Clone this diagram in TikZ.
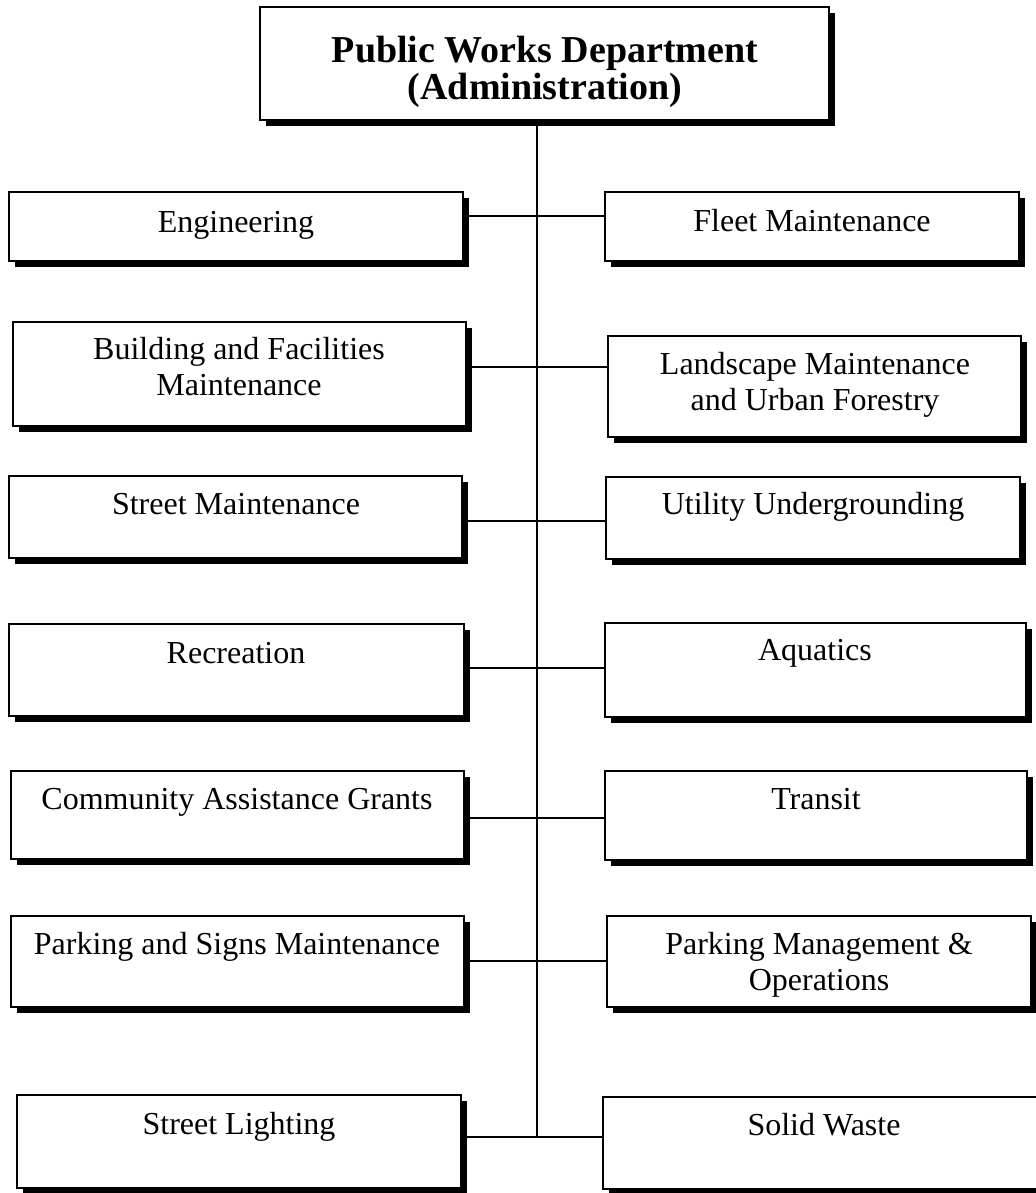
\documentclass[tikz,border=0pt]{standalone}
\usepackage{fontspec}
\setmainfont{Liberation Serif}
\usetikzlibrary{shadows,fit}

\tikzset{
  orgbox/.style={draw=black, line width=1pt, fill=white, inner sep=0pt,
    drop shadow={shadow xshift=3pt, shadow yshift=-3pt, fill=black, opacity=1}},
  % labels are placed by the baseline of their last line
  lbl/.style={font=\fontsize{16}{17.75}\selectfont, align=center,
    inner sep=0pt, anchor=base},
  headlbl/.style={font=\bfseries\fontsize{19}{18.5}\selectfont, align=center,
    inner sep=0pt, anchor=base},
  link/.style={line width=1pt}
}

\begin{document}
\begin{tikzpicture}[x=0.5pt, y=-0.5pt]
  \clip (0,0) rectangle (1036,1193);

  % junction points on the central spine
  \coordinate (j1) at (537,216);
  \coordinate (j2) at (537,367);
  \coordinate (j3) at (537,521);
  \coordinate (j4) at (537,668);
  \coordinate (j5) at (537,818);
  \coordinate (j6) at (537,961);
  \coordinate (j7) at (537,1137);

  % frames for the head and the divisions
  \node[orgbox, fit={(260,7) (829,120)}] (head) {};
  \node[orgbox, fit={(9,192) (463,261)}] (L1) {};
  \node[orgbox, fit={(605,192) (1019,261)}] (R1) {};
  \node[orgbox, fit={(13,322) (466,426)}] (L2) {};
  \node[orgbox, fit={(608,336) (1021,437)}] (R2) {};
  \node[orgbox, fit={(9,476) (462,558)}] (L3) {};
  \node[orgbox, fit={(606,477) (1020,559)}] (R3) {};
  \node[orgbox, fit={(9,624) (464,716)}] (L4) {};
  \node[orgbox, fit={(605,623) (1026,717)}] (R4) {};
  \node[orgbox, fit={(11,771) (464,859)}] (L5) {};
  \node[orgbox, fit={(605,771) (1027,860)}] (R5) {};
  \node[orgbox, fit={(11,916) (464,1007)}] (L6) {};
  \node[orgbox, fit={(607,916) (1031,1007)}] (R6) {};
  \node[orgbox, fit={(17,1095) (461,1188)}] (L7) {};
  \node[orgbox, fit={(603,1097) (1045,1189)}] (R7) {};

  % spine and cross links
  \draw[link] (head.south -| j1) -- (j7);
  \draw[link] (L1.east |- j1) -- (R1.west |- j1);
  \draw[link] (L2.east |- j2) -- (R2.west |- j2);
  \draw[link] (L3.east |- j3) -- (R3.west |- j3);
  \draw[link] (L4.east |- j4) -- (R4.west |- j4);
  \draw[link] (L5.east |- j5) -- (R5.west |- j5);
  \draw[link] (L6.east |- j6) -- (R6.west |- j6);
  \draw[link] (L7.east |- j7) -- (R7.west |- j7);

  % labels
  \node[headlbl] (headt) at (545,100) {Public Works Department\\(Administration)};
  \node[lbl] (L1t) at (236,232) {Engineering};
  \node[lbl] (R1t) at (812,231) {Fleet Maintenance};
  \node[lbl] (L2t) at (239,395) {Building and Facilities\\Maintenance};
  \node[lbl] (R2t) at (815,410) {Landscape Maintenance\\and Urban Forestry};
  \node[lbl] (L3t) at (236,514) {Street Maintenance};
  \node[lbl] (R3t) at (813,514) {Utility Undergrounding};
  \node[lbl] (L4t) at (236,663) {Recreation};
  \node[lbl] (R4t) at (815,660) {Aquatics};
  \node[lbl] (L5t) at (237,809) {Community Assistance Grants};
  \node[lbl] (R5t) at (816,809) {Transit};
  \node[lbl] (L6t) at (237,954) {Parking and Signs Maintenance};
  \node[lbl] (R6t) at (819,990) {Parking Management \&\\Operations};
  \node[lbl] (L7t) at (239,1134) {Street Lighting};
  \node[lbl] (R7t) at (824,1135) {Solid Waste};
\end{tikzpicture}
\end{document}
